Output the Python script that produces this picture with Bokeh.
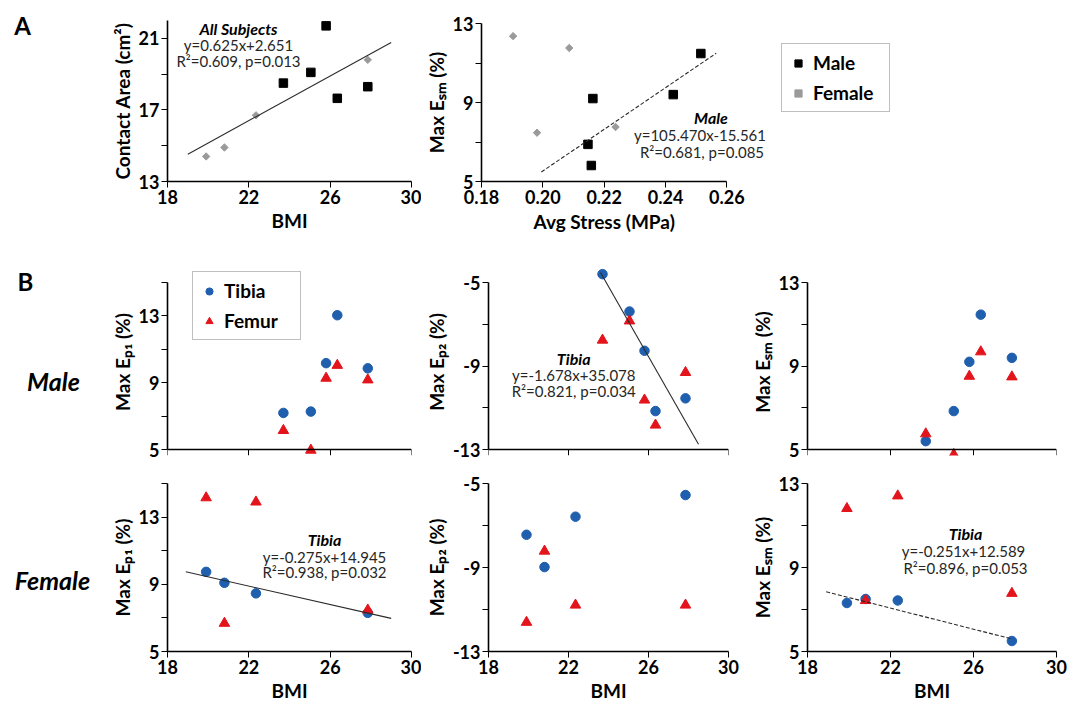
import math
from bokeh.plotting import figure
from bokeh.layouts import column, row
from bokeh.models import Range1d, FixedTicker, Legend, LegendItem, Label, Title
from bokeh.embed import file_html
from bokeh.resources import INLINE

FONT = "Lato"

# ------------------------------------------------------------------ data
male_bmi = [23.7, 25.05, 25.8, 26.35, 27.85]
female_bmi = [19.9, 20.8, 22.35, 27.85]

male_contact_area = [18.5, 19.1, 21.7, 17.65, 18.3]
female_contact_area = [14.4, 14.9, 16.7, 19.8]

male_avg_stress = [0.2515, 0.2425, 0.2163, 0.2147, 0.2158]
male_max_esm_a = [11.48, 9.4, 9.2, 6.88, 5.81]
female_avg_stress = [0.1903, 0.2086, 0.1981, 0.2237]
female_max_esm_a = [12.36, 11.76, 7.47, 7.76]

male_tibia_ep1 = [7.19, 7.27, 10.17, 13.04, 9.86]
male_femur_ep1 = [6.14, 4.96, 9.27, 10.04, 9.17]
male_tibia_ep2 = [-4.6, -6.39, -8.27, -11.16, -10.55]
male_femur_ep2 = [-7.76, -6.84, -10.63, -11.83, -9.31]
male_tibia_esm = [5.4, 6.84, 9.2, 11.46, 9.39]
male_femur_esm = [5.75, 4.76, 8.51, 9.68, 8.48]

female_tibia_ep1 = [9.74, 9.09, 8.46, 7.3]
female_femur_ep1 = [14.15, 6.68, 13.9, 7.47]
female_tibia_ep2 = [-7.44, -8.98, -6.58, -5.55]
female_femur_ep2 = [-11.61, -8.22, -10.79, -10.79]
female_tibia_esm = [7.31, 7.5, 7.43, 5.5]
female_femur_esm = [11.81, 7.43, 12.41, 7.77]

# regression fits shown on the chart: (slope, intercept, x from, x to)
fit_all_area = (0.625, 2.651, 19.0, 29.0)
fit_male_stress = (105.470, -15.561, 0.1995, 0.2565)
fit_male_tibia_ep2 = (-1.678, 35.078, 23.6, 28.5)
fit_female_tibia_ep1 = (-0.275, 14.945, 18.9, 29.0)
fit_female_tibia_esm = (-0.251, 12.589, 18.9, 27.85)

bmi_ticks = [18, 22, 26, 30]
bmi_labels = ["18", "22", "26", "30"]
stress_ticks = [0.18, 0.20, 0.22, 0.24, 0.26]
stress_labels = ["0.18", "0.20", "0.22", "0.24", "0.26"]
area_ticks, area_minor, area_labels = [13, 17, 21], [15, 19], ["13", "17", "21"]
pos_ticks, pos_minor, pos_labels = [5, 9, 13], [7, 11], ["5", "9", "13"]
ep1_ticks, ep1_minor, ep1_labels = [5, 9, 13], [7, 11, 15], ["5", "9", "13"]
neg_ticks, neg_minor, neg_labels = [-13, -9, -5], [-11, -7], ["-13", "-9", "-5"]

MALE_C, FEMALE_C = "black", "#9a9a9a"
TIBIA_C, FEMUR_C = "#1f5fae", "#e3141b"
TEXT_C = "#262626"


# ------------------------------------------------------------------ helpers
def make_panel(fig_x, fig_y, frame, x_range, y_range, xt, xl, yt, ym, yl, xtitle, ytitle,
               pad=(0, 0)):
    """fig_x=(left,right), fig_y=(top,bottom), frame=(l,r,t,b) of the axes in page px.
    pad=(top,bottom): extra px of plotting area beyond the axes so markers are not cut."""
    fl, fr, ft, fb = frame
    pt, pb = pad
    y0, y1 = y_range
    ppu = (fb - ft) / (y1 - y0)
    ft2, fb2 = ft - pt, fb + pb
    yr = (y0 - pb / ppu, y1 + pt / ppu)
    p = figure(width=fig_x[1] - fig_x[0], height=fig_y[1] - fig_y[0],
               x_range=Range1d(*x_range), y_range=Range1d(*yr),
               output_backend="svg", toolbar_location=None, frame_align=False,
               min_border_left=int(round(fl - fig_x[0])),
               min_border_right=int(round(fig_x[1] - fr)),
               min_border_top=int(round(ft2 - fig_y[0])),
               min_border_bottom=int(round(fig_y[1] - fb2)))
    p.grid.visible = False
    p.outline_line_color = None
    p.border_fill_color = "white"
    p.background_fill_color = "white"
    xa, ya = p.xaxis[0], p.yaxis[0]
    xa.ticker = FixedTicker(ticks=xt, minor_ticks=[])
    xa.major_label_overrides = dict(zip(xt, xl))
    ya.ticker = FixedTicker(ticks=yt, minor_ticks=ym)
    ya.major_label_overrides = dict(zip(yt, yl))
    if pt or pb:
        ya.bounds = (y0, y1)
    if pb:
        xa.fixed_location = y0
    xa.axis_label = xtitle
    ya.axis_label = ytitle
    for ax in (xa, ya):
        ax.axis_line_color = "black"
        ax.axis_line_width = 1.6
        ax.major_tick_line_color = "black"
        ax.minor_tick_line_color = "black"
        ax.major_tick_line_width = 1
        ax.minor_tick_line_width = 1
        ax.major_tick_in = 0
        ax.major_tick_out = 6
        ax.minor_tick_in = 0
        ax.minor_tick_out = 6
        ax.major_label_text_font = FONT
        ax.major_label_text_font_size = "18px"
        ax.major_label_text_font_style = "bold"
        ax.major_label_text_color = "black"
        ax.major_label_standoff = 2
        ax.axis_label_text_font = FONT
        ax.axis_label_text_font_size = "19px"
        ax.axis_label_text_font_style = "bold"
        ax.axis_label_text_color = "black"
        ax.axis_label_standoff = 2
    p._geom = ((fl, fr, ft2, fb2), x_range, yr)
    return p


def label_fig(fig_x, fig_y):
    """Blank figure whose data units equal page pixels (for row/panel captions)."""
    w, h = fig_x[1] - fig_x[0], fig_y[1] - fig_y[0]
    p = figure(width=w, height=h, x_range=Range1d(fig_x[0], fig_x[1]),
               y_range=Range1d(fig_y[1], fig_y[0]), output_backend="svg",
               toolbar_location=None, x_axis_location=None, y_axis_location=None,
               min_border=0, frame_align=False)
    p.grid.visible = False
    p.outline_line_color = None
    p.border_fill_color = "white"
    p.background_fill_color = "white"
    p._geom = ((fig_x[0], fig_x[1], fig_y[0], fig_y[1]), (fig_x[0], fig_x[1]), (fig_y[1], fig_y[0]))
    return p


def to_data(p, px, py):
    (fl, fr, ft, fb), (x0, x1), (y0, y1) = p._geom
    return (x0 + (px - fl) / (fr - fl) * (x1 - x0),
            y0 + (fb - py) / (fb - ft) * (y1 - y0))


def text(p, px, py, s, size="15px", style="normal", color=TEXT_C, align="center"):
    x, y = to_data(p, px, py)
    p.add_layout(Label(x=x, y=y, text=s, text_font=FONT, text_font_size=size,
                       text_font_style=style, text_color=color,
                       text_align=align, text_baseline="middle"))


def fit_line(p, fit, dash="solid"):
    m, b, xa, xb = fit
    xs = [xa, xb]
    p.line(xs, [m * v + b for v in xs], line_color="#2b2b2b", line_width=1.1, line_dash=dash)


def tib_fem(p, bmi, tib, fem):
    r1 = p.scatter(bmi, tib, marker="circle", size=9.5, fill_color=TIBIA_C, line_color=TIBIA_C)
    r2 = p.scatter(bmi, fem, marker="triangle", size=10.5, fill_color=FEMUR_C, line_color=FEMUR_C)
    return r1, r2


def legend(p, items, box_left, box_bottom):
    (fl, fr, ft, fb), _, _ = p._geom
    lg = Legend(items=items, location=(box_left - fl, fb - box_bottom), orientation="vertical",
                label_text_font=FONT, label_text_font_size="19px",
                label_text_font_style="bold", label_text_color="black",
                glyph_width=18, glyph_height=18, label_standoff=6,
                label_height=20, label_width=69, spacing=7, padding=7, margin=0,
                border_line_color="#808080", border_line_width=1.5,
                background_fill_color="white", background_fill_alpha=1)
    p.add_layout(lg, "center")


# ------------------------------------------------------------------ row A
A_Y = (0, 250)
labA = label_fig((0, 95), A_Y)
text(labA, 22, 25, "A", size="24px", style="bold", color="black")

a1 = make_panel((95, 421), A_Y, (167, 411, 20, 181), (18, 30), (13, 22),
                bmi_ticks, bmi_labels, area_ticks, area_minor, area_labels,
                "BMI", "Contact Area (cm²)")
a1.scatter(male_bmi, male_contact_area, marker="square", size=8.5,
           fill_color=MALE_C, line_color=MALE_C)
a1.scatter(female_bmi, female_contact_area, marker="square", size=5.2, angle=math.pi / 4,
           fill_color=FEMALE_C, line_color=FEMALE_C)
fit_line(a1, fit_all_area)
text(a1, 238, 27.5, "All Subjects", size="16px", style="bold italic", color="black")
text(a1, 238, 44, "y=0.625x+2.651")
text(a1, 238, 60, "R²=0.609, p=0.013")

# stress axis spans 0.18-0.26 over 246 px; the frame continues to the right
# so that the equation and the legend sit inside it
A2_FRAME = (480, 905, 23, 181)
a2_xmax = 0.18 + (A2_FRAME[1] - A2_FRAME[0]) * 0.08 / 246
a2 = make_panel((421, 1069), A_Y, A2_FRAME, (0.18, a2_xmax), (5, 13),
                stress_ticks, stress_labels, pos_ticks, pos_minor, pos_labels,
                "", "Max Eₛₘ (%)")
a2.xaxis[0].bounds = (0.18, 0.26)
a2.add_layout(Title(text="Avg Stress (MPa)", align="left", offset=52, standoff=2,
                    text_font=FONT, text_font_size="19px", text_font_style="bold",
                    text_color="black"), "below")
rm = a2.scatter(male_avg_stress, male_max_esm_a, marker="square", size=8.5,
                fill_color=MALE_C, line_color=MALE_C)
rf = a2.scatter(female_avg_stress, female_max_esm_a, marker="square", size=5.2,
                angle=math.pi / 4, fill_color=FEMALE_C, line_color=FEMALE_C)
fit_line(a2, fit_male_stress, dash="4 2")
text(a2, 710, 117, "Male", size="16px", style="bold italic", color="black")
text(a2, 699, 134, "y=105.470x-15.561")
text(a2, 701, 151, "R²=0.681, p=0.085")
legend(a2, [LegendItem(label="Male", renderers=[rm]),
            LegendItem(label="Female", renderers=[rf])], 780, 112)

# ------------------------------------------------------------------ row B
B1_Y = (250, 468)
B2_Y = (468, 704)
C1_X, C2_X, C3_X = (95, 421), (421, 740), (740, 1069)
F1_X, F2_X, F3_X = (167, 411), (483, 728), (807, 1056)
T1_Y, T2_Y = (282, 449), (483, 651)
PAD1 = (14, 6)
no_lab = ["", "", "", ""]

labB1 = label_fig((0, 95), B1_Y)
text(labB1, 25, 281, "B", size="24px", style="bold", color="black")
text(labB1, 53, 380, "Male", size="25px", style="bold italic", color="black")

b11 = make_panel(C1_X, B1_Y, (*F1_X, *T1_Y), (18, 30), (5, 15),
                 bmi_ticks, no_lab, ep1_ticks, ep1_minor, ep1_labels, "", "Max Eₚ₁ (%)",
                 pad=PAD1)
rt, rfm = tib_fem(b11, male_bmi, male_tibia_ep1, male_femur_ep1)
legend(b11, [LegendItem(label="Tibia", renderers=[rt]),
             LegendItem(label="Femur", renderers=[rfm])], 192, 340)

b12 = make_panel(C2_X, B1_Y, (*F2_X, *T1_Y), (18, 30), (-13, -5),
                 bmi_ticks, no_lab, neg_ticks, neg_minor, neg_labels, "", "Max Eₚ₂ (%)",
                 pad=PAD1)
tib_fem(b12, male_bmi, male_tibia_ep2, male_femur_ep2)
fit_line(b12, fit_male_tibia_ep2)
text(b12, 570, 358, "Tibia", size="16px", style="bold italic", color="black")
text(b12, 570, 374.5, "y=-1.678x+35.078")
text(b12, 570, 390, "R²=0.821, p=0.034")

b13 = make_panel(C3_X, B1_Y, (*F3_X, *T1_Y), (18, 30), (5, 13),
                 bmi_ticks, no_lab, pos_ticks, pos_minor, pos_labels, "", "Max Eₛₘ (%)",
                 pad=PAD1)
tib_fem(b13, male_bmi, male_tibia_esm, male_femur_esm)

labB2 = label_fig((0, 95), B2_Y)
text(labB2, 52, 579, "Female", size="25px", style="bold italic", color="black")

b21 = make_panel(C1_X, B2_Y, (*F1_X, *T2_Y), (18, 30), (5, 15),
                 bmi_ticks, bmi_labels, ep1_ticks, ep1_minor, ep1_labels, "BMI", "Max Eₚ₁ (%)")
tib_fem(b21, female_bmi, female_tibia_ep1, female_femur_ep1)
fit_line(b21, fit_female_tibia_ep1)
text(b21, 324, 539, "Tibia", size="16px", style="bold italic", color="black")
text(b21, 324, 556, "y=-0.275x+14.945")
text(b21, 324, 571, "R²=0.938, p=0.032")

b22 = make_panel(C2_X, B2_Y, (*F2_X, *T2_Y), (18, 30), (-13, -5),
                 bmi_ticks, bmi_labels, neg_ticks, neg_minor, neg_labels, "BMI", "Max Eₚ₂ (%)")
tib_fem(b22, female_bmi, female_tibia_ep2, female_femur_ep2)

b23 = make_panel(C3_X, B2_Y, (*F3_X, *T2_Y), (18, 30), (5, 13),
                 bmi_ticks, bmi_labels, pos_ticks, pos_minor, pos_labels, "BMI", "Max Eₛₘ (%)")
tib_fem(b23, female_bmi, female_tibia_esm, female_femur_esm)
fit_line(b23, fit_female_tibia_esm, dash="4 2")
text(b23, 965, 532.5, "Tibia", size="16px", style="bold italic", color="black")
text(b23, 963, 550, "y=-0.251x+12.589")
text(b23, 965, 567, "R²=0.896, p=0.053")

layout = column(row(labA, a1, a2), row(labB1, b11, b12, b13), row(labB2, b21, b22, b23))
open("out.html", "w").write(file_html(layout, INLINE, title="Contact mechanics vs BMI"))
